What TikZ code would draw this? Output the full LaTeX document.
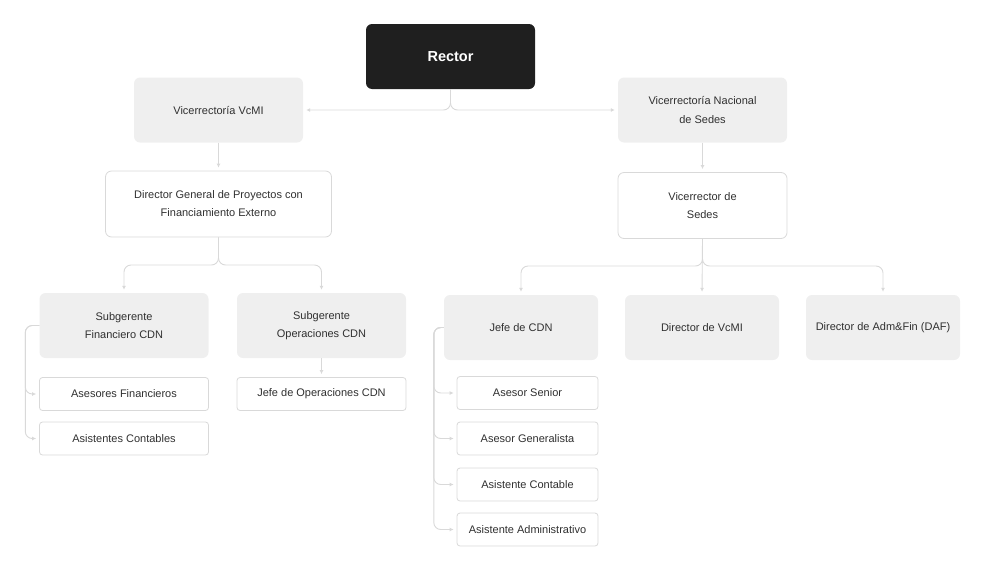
\documentclass[tikz,border=0pt]{standalone}
\usepackage{fontspec}
\setmainfont{Liberation Sans}
\usetikzlibrary{arrows.meta}

\definecolor{boxgray}{HTML}{EFEFEF}
\definecolor{linegray}{HTML}{D9D9D9}
\definecolor{textgray}{HTML}{303030}
\definecolor{rectorblack}{HTML}{1F1F1F}

\tikzset{
    base/.style={rounded corners=6pt, align=center, inner sep=0pt, text=textgray,
        font=\fontsize{11}{18}\selectfont},
    rectorbox/.style={base, fill=rectorblack, text=white,
        font=\fontsize{14.5}{18}\selectfont\bfseries, minimum width=169pt, minimum height=65pt},
    graybox/.style={base, fill=boxgray, minimum height=65pt},
    whitebox/.style={base, draw=linegray, fill=white, line width=0.8pt, minimum height=66pt},
    smallbox/.style={base, rounded corners=3pt, draw=linegray, fill=white, line width=0.8pt, minimum height=33pt},
    conn/.style={draw=linegray, line width=0.9pt, rounded corners=7pt,
        -{Latex[length=4pt,width=4pt]}, shorten >=3pt},
}

\begin{document}
\begin{tikzpicture}[x=1pt,y=-1pt]
    \useasboundingbox (0,0) rectangle (1000,584);

    % top level
    \node [rectorbox] (rector) at (450.5,56.5) {Rector};
    \node [graybox, minimum width=169pt] (vcmi) at (218.5,110) {Vicerrectoría VcMI};
    \node [graybox, minimum width=169pt] (nac)  at (702.5,110) {Vicerrectoría Nacional\\de Sedes};

    \node [whitebox, minimum width=226pt] (dirgen) at (218.5,204) {Director General de Proyectos con\\Financiamiento Externo};
    \node [whitebox, minimum width=169pt] (vicsed) at (702.5,205.5) {Vicerrector de\\Sedes};

    % left branch
    \node [graybox, minimum width=169pt] (sfin) at (124,325.5) {Subgerente\\Financiero CDN};
    \node [graybox, minimum width=169pt] (sop)  at (321.5,325.5) {Subgerente\\Operaciones CDN};
    \node [smallbox, minimum width=169pt] (asfin)  at (124,394)   {Asesores Financieros};
    \node [smallbox, minimum width=169pt] (ascont) at (124,438.5) {Asistentes Contables};
    \node [smallbox, minimum width=169pt] (jefeop) at (321.5,394) {Jefe de Operaciones CDN};

    % right branch
    \node [graybox, minimum width=154pt] (jefe)  at (521,327.5) {Jefe de CDN};
    \node [graybox, minimum width=154pt] (dvcmi) at (702,327.5) {Director de VcMI};
    \node [graybox, minimum width=154pt] (daf)   at (883,327.5) {Director de Adm\&Fin (DAF)};
    \node [smallbox, minimum width=141pt] (asen)  at (527.5,393)   {Asesor Senior};
    \node [smallbox, minimum width=141pt] (agen)  at (527.5,438.5) {Asesor Generalista};
    \node [smallbox, minimum width=141pt] (acont) at (527.5,484.5) {Asistente Contable};
    \node [smallbox, minimum width=141pt] (aadm)  at (527.5,529.5) {Asistente Administrativo};

    % connectors
    \draw [conn] (rector.south) |- (vcmi.east);
    \draw [conn] (rector.south) |- (nac.west);
    \draw [conn] (vcmi.south) -- (dirgen.north);
    \draw [conn] (nac.south) -- (vicsed.north);

    \coordinate (dgsplit) at (218.5,265);
    \draw [conn] (dirgen.south) -- (dgsplit) -| (sfin.north);
    \draw [conn] (dirgen.south) -- (dgsplit) -| (sop.north);
    \draw [conn] (sop.south) -- (jefeop.north);
    \foreach \n in {asfin,ascont}
        \draw [conn] (sfin.west) -- ++(-14,0) |- (\n.west);

    \coordinate (vssplit) at (702.5,266);
    \draw [conn] (vicsed.south) -- (vssplit) -| (jefe.north);
    \draw [conn] (vicsed.south) -- (dvcmi.north);
    \draw [conn] (vicsed.south) -- (vssplit) -| (daf.north);
    \foreach \n in {asen,agen,acont,aadm}
        \draw [conn] (jefe.west) -- ++(-10,0) |- (\n.west);
\end{tikzpicture}
\end{document}
